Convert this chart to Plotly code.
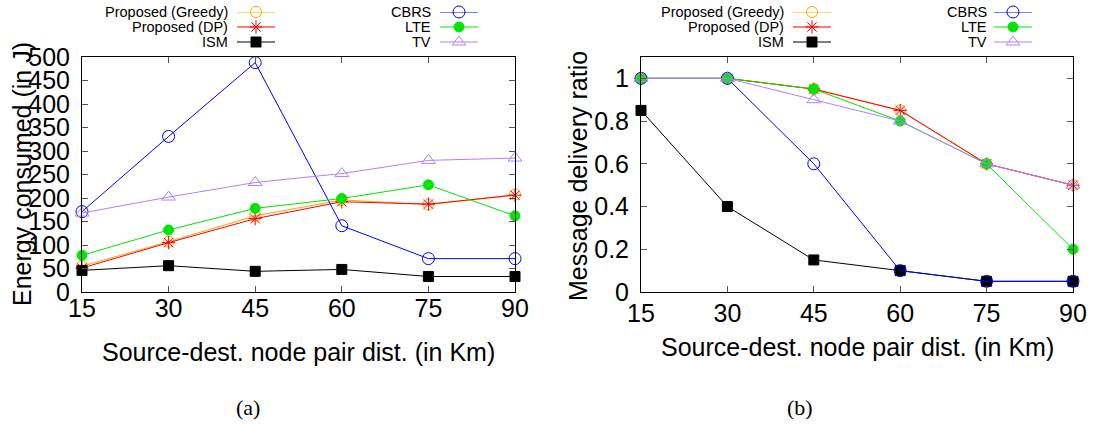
import plotly.graph_objects as go

# ---------------- data ----------------
dist = [15, 30, 45, 60, 75, 90]
x_ticks = [15, 30, 45, 60, 75, 90]

series_names = ["Proposed (Greedy)", "Proposed (DP)", "ISM", "CBRS", "LTE", "TV"]

energy_greedy = [55, 107, 162, 196, 186, 207]
energy_dp = [51, 105, 156, 192, 187, 206]
energy_ism = [46, 56, 44, 48, 33, 33]
energy_cbrs = [171, 331, 488, 141, 71, 71]
energy_lte = [78, 132, 178, 199, 228, 162]
energy_tv = [168, 202, 233, 252, 280, 285]

pdr_greedy = [1.0, 1.0, 0.95, 0.85, 0.6, 0.5]
pdr_dp = [1.0, 1.0, 0.95, 0.85, 0.6, 0.5]
pdr_ism = [0.85, 0.4, 0.15, 0.1, 0.05, 0.05]
pdr_cbrs = [1.0, 1.0, 0.6, 0.1, 0.05, 0.05]
pdr_lte = [1.0, 1.0, 0.95, 0.8, 0.6, 0.2]
pdr_tv = [1.0, 1.0, 0.9, 0.8, 0.6, 0.5]

energy_ticks = [0, 50, 100, 150, 200, 250, 300, 350, 400, 450, 500]
pdr_ticks = [0, 0.2, 0.4, 0.6, 0.8, 1.0]
pdr_tick_labels = ["0", "0.2", "0.4", "0.6", "0.8", "1"]

# ---------------- styles ----------------
styles = {
    "Proposed (Greedy)": dict(color="#ffa500", symbol="circle-open", size=11),
    "Proposed (DP)": dict(color="#ff0000", symbol="asterisk-open", size=11),
    "ISM": dict(color="#000000", symbol="square", size=10),
    "CBRS": dict(color="#0000ff", symbol="circle-open", size=12),
    "LTE": dict(color="#00e600", symbol="circle", size=10),
    "TV": dict(color="#b080ff", symbol="triangle-up-open", size=12),
}

energy = dict(zip(series_names, [energy_greedy, energy_dp, energy_ism,
                                 energy_cbrs, energy_lte, energy_tv]))
pdr = dict(zip(series_names, [pdr_greedy, pdr_dp, pdr_ism,
                              pdr_cbrs, pdr_lte, pdr_tv]))

W, H = 1095, 424
ML, MR, MT, MB = 13, 13, 12, 13
PW, PH = W - ML - MR, H - MT - MB
FONT = "Liberation Sans"


def fx(px):
    return (px - ML) / PW


def fy(py):
    return 1 - (py - MT) / PH


fig = go.Figure()


def marker_of(name):
    s = styles[name]
    return dict(color=s["color"], symbol=s["symbol"], size=s["size"],
                line=dict(color=s["color"], width=1))


for name in series_names:
    fig.add_trace(go.Scatter(
        x=dist, y=energy[name], mode="lines+markers", name=name,
        line=dict(color=styles[name]["color"], width=1),
        marker=marker_of(name), cliponaxis=False, showlegend=False,
        xaxis="x", yaxis="y"))
for name in series_names:
    fig.add_trace(go.Scatter(
        x=dist, y=pdr[name], mode="lines+markers", name=name,
        line=dict(color=styles[name]["color"], width=1),
        marker=marker_of(name), cliponaxis=False, showlegend=False,
        xaxis="x2", yaxis="y2"))

# ---------------- manual legends (gnuplot style: text, then sample) ----------------
annotations = []
legend_cols = [
    # (text right edge, sample start, sample end) in page pixels
    (227, 237, 275, series_names[:3]),
    (430, 440, 478, series_names[3:]),
    (783, 793, 831, series_names[:3]),
    (986, 994, 1032, series_names[3:]),
]
row_y = [12, 27, 42]
for tx, sx0, sx1, names in legend_cols:
    for ry, name in zip(row_y, names):
        annotations.append(dict(
            x=fx(tx), y=fy(ry), xref="paper", yref="paper",
            text=name, showarrow=False, xanchor="right", yanchor="middle",
            xshift=3,
            font=dict(family=FONT, size=14.5, color="#000000")))
        fig.add_trace(go.Scatter(
            x=[sx0, sx1], y=[ry, ry], mode="lines",
            line=dict(color=styles[name]["color"], width=1.2),
            showlegend=False, hoverinfo="skip", xaxis="x3", yaxis="y3"))
        fig.add_trace(go.Scatter(
            x=[(sx0 + sx1) / 2], y=[ry], mode="markers",
            marker=marker_of(name), cliponaxis=False,
            showlegend=False, hoverinfo="skip", xaxis="x3", yaxis="y3"))

# ---------------- axis titles and captions ----------------
annotations += [
    dict(x=fx(22), y=fy(174), xref="paper", yref="paper", text="Energy consumed (in J)",
         textangle=-90, showarrow=False, xanchor="center", yanchor="middle",
         font=dict(family=FONT, size=25, color="#000")),
    dict(x=fx(578), y=fy(176), xref="paper", yref="paper", text="Message delivery ratio",
         textangle=-90, showarrow=False, xanchor="center", yanchor="middle",
         font=dict(family=FONT, size=25, color="#000")),
    dict(x=fx(298), y=fy(352), xref="paper", yref="paper",
         text="Source-dest. node pair dist. (in Km)", showarrow=False,
         xanchor="center", yanchor="middle", font=dict(family=FONT, size=25, color="#000")),
    dict(x=fx(857), y=fy(347), xref="paper", yref="paper",
         text="Source-dest. node pair dist. (in Km)", showarrow=False,
         xanchor="center", yanchor="middle", font=dict(family=FONT, size=25, color="#000")),
    dict(x=fx(248), y=fy(407), xref="paper", yref="paper", text="(a)", showarrow=False,
         xanchor="center", yanchor="middle", font=dict(family="Liberation Serif", size=22, color="#000")),
    dict(x=fx(800), y=fy(407), xref="paper", yref="paper", text="(b)", showarrow=False,
         xanchor="center", yanchor="middle", font=dict(family="Liberation Serif", size=22, color="#000")),
]

ydom = [fy(292), fy(57)]
common = dict(showline=True, linecolor="#000000", linewidth=1, mirror="ticks",
              ticks="inside", ticklen=6, tickcolor="#555555", tickwidth=1,
              showgrid=False, zeroline=False, automargin=False,
              tickfont=dict(family=FONT, size=25, color="#000"))

fig.update_layout(
    width=W, height=H, margin=dict(l=ML, r=MR, t=MT, b=MB, pad=0, autoexpand=False),
    paper_bgcolor="white", plot_bgcolor="rgba(0,0,0,0)",
    xaxis=dict(domain=[fx(82), fx(515)], range=[15, 90], tickvals=x_ticks,
               anchor="y", ticklabelstandoff=-6, **common),
    yaxis=dict(domain=ydom, range=[0, 500], tickvals=energy_ticks,
               anchor="x", ticklabelstandoff=6, **common),
    xaxis2=dict(domain=[fx(641), fx(1073)], range=[15, 90], tickvals=x_ticks,
                anchor="y2", ticklabelstandoff=-1, **common),
    yaxis2=dict(domain=ydom, range=[0, 1.1], tickvals=pdr_ticks, ticktext=pdr_tick_labels,
                anchor="x2", ticklabelstandoff=6, **common),
    xaxis3=dict(domain=[0, 1], range=[ML, ML + PW], visible=False, anchor="y3", fixedrange=True),
    yaxis3=dict(domain=[0, 1], range=[MT + PH, MT], visible=False, anchor="x3", fixedrange=True),
    annotations=annotations,
    showlegend=False,
)

fig.write_html("out.html")
